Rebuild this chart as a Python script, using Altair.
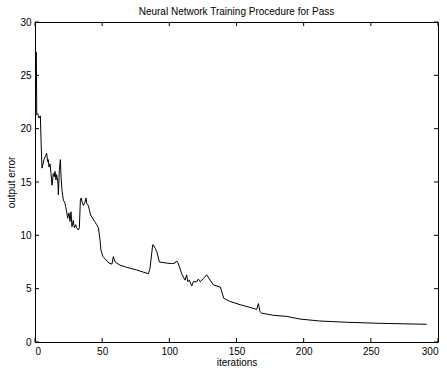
import altair as alt
import pandas as pd

iterations = [1, 1.3, 2, 3, 4, 4.6, 5.2, 6.7, 8.0, 8.7, 9.4, 9.9, 10.4, 11.2, 11.9, 12.7,
              13.6, 14.4, 14.9, 15.6, 16.1, 17.1, 17.4, 18.1, 18.9, 19.4, 20.1, 21.1,
              22.1, 22.8, 23.6, 24.3, 25.3, 26.1, 26.8, 27.5, 28.5, 29.3, 30.3, 31.0,
              32.3, 33.0, 33.8, 34.3, 35.2, 36.0, 37.2, 38.0, 38.5, 39.7, 40.4, 41.4,
              42.9, 44.4, 45.9, 47.2, 48.4, 49.1, 50.6, 52.9, 55.1, 57.3, 58.3, 59.1,
              59.6, 60.8, 63.3, 68.3, 75.7, 84.4, 85.6, 87.6, 88.1, 89.4, 90.6, 92.6,
              98.0, 101.8, 104.2, 105.5, 106.7, 109.2, 110.4, 111.7, 112.9, 113.7,
              114.9, 116.7, 117.9, 120.4, 121.6, 122.9, 125.3, 127.8, 130.3, 132.8,
              138.0, 140.5, 145.2, 152.6, 160.0, 165.0, 166.3, 167.5, 168.8, 177.5,
              187.4, 197.3, 212.0, 232.0, 257.0, 291.6]
output_error = [27.2, 21.3, 21.4, 21.0, 21.2, 18.5, 16.3, 17.1, 17.5, 17.7, 16.9, 17.1,
                16.4, 16.7, 15.8, 14.7, 15.8, 15.5, 16.0, 15.2, 15.7, 14.9, 13.8, 16.1,
                17.1, 15.5, 14.2, 13.3, 13.1, 12.7, 12.2, 11.6, 12.1, 11.3, 12.2, 10.8,
                11.4, 10.7, 11.0, 10.7, 10.5, 10.7, 13.3, 13.5, 13.1, 12.8, 13.1, 13.5,
                13.0, 12.8, 12.4, 11.9, 11.6, 11.3, 11.0, 10.7, 9.6, 8.6, 8.0, 7.7, 7.4,
                7.3, 8.0, 7.7, 7.5, 7.4, 7.2, 7.0, 6.75, 6.4, 6.9, 9.1, 9.1, 8.8, 8.5,
                7.5, 7.4, 7.35, 7.4, 7.6, 7.35, 6.4, 6.1, 5.8, 6.3, 5.65, 5.8, 5.25,
                5.65, 5.65, 5.9, 5.65, 5.95, 6.3, 5.8, 5.35, 5.15, 4.1, 3.8, 3.5, 3.25,
                3.05, 3.6, 2.85, 2.7, 2.5, 2.4, 2.15, 1.97, 1.85, 1.75, 1.66]

x_ticks = [0, 50, 100, 150, 200, 250, 300]
y_ticks = [0, 5, 10, 15, 20, 25, 30]

FONT = "Liberation Sans"
W, H = 403, 320
TL = 4

df = pd.DataFrame({"iter": iterations, "err": output_error})
xt = pd.DataFrame({"iter": x_ticks})
yt = pd.DataFrame({"err": y_ticks})

xs = alt.Scale(domain=[0, 300], nice=False, zero=False)
ys = alt.Scale(domain=[0, 30], nice=False, zero=False)

common = dict(ticks=False, domain=False, grid=False, labelFont=FONT, titleFont=FONT,
              labelFontSize=10, titleFontSize=10, titleFontWeight="normal",
              labelColor="#000000", titleColor="#000000")
x_axis = alt.Axis(values=x_ticks, labelPadding=4, titlePadding=1, **common)
y_axis = alt.Axis(values=y_ticks, labelPadding=4, titlePadding=3, **common)

X = alt.X("iter:Q", scale=xs, title="iterations", axis=x_axis)
Y = alt.Y("err:Q", scale=ys, title="output error", axis=y_axis)

line = alt.Chart(df).mark_line(color="#000000", strokeWidth=1).encode(x=X, y=Y)

bottom = alt.Chart(xt).mark_rule(color="#000000", strokeWidth=1).encode(
    x=X, y=alt.value(H), y2=alt.value(H - TL))
top = alt.Chart(xt).mark_rule(color="#000000", strokeWidth=1).encode(
    x=X, y=alt.value(0), y2=alt.value(TL))
left = alt.Chart(yt).mark_rule(color="#000000", strokeWidth=1).encode(
    y=Y, x=alt.value(0), x2=alt.value(TL))
right = alt.Chart(yt).mark_rule(color="#000000", strokeWidth=1).encode(
    y=Y, x=alt.value(W), x2=alt.value(W - TL))

chart = alt.layer(line, bottom, top, left, right).properties(
    width=W, height=H,
    title=alt.TitleParams("Neural Network Training Procedure for Pass", font=FONT,
                          fontSize=10, fontWeight="normal", color="#000000",
                          anchor="middle", offset=0),
    autosize=alt.AutoSizeParams(type="none"),
    padding={"left": 35, "top": 22, "right": 9, "bottom": 31},
).configure_view(stroke="#000000", strokeWidth=1)

chart.save("out.html", embed_options={"renderer": "svg", "actions": False})
